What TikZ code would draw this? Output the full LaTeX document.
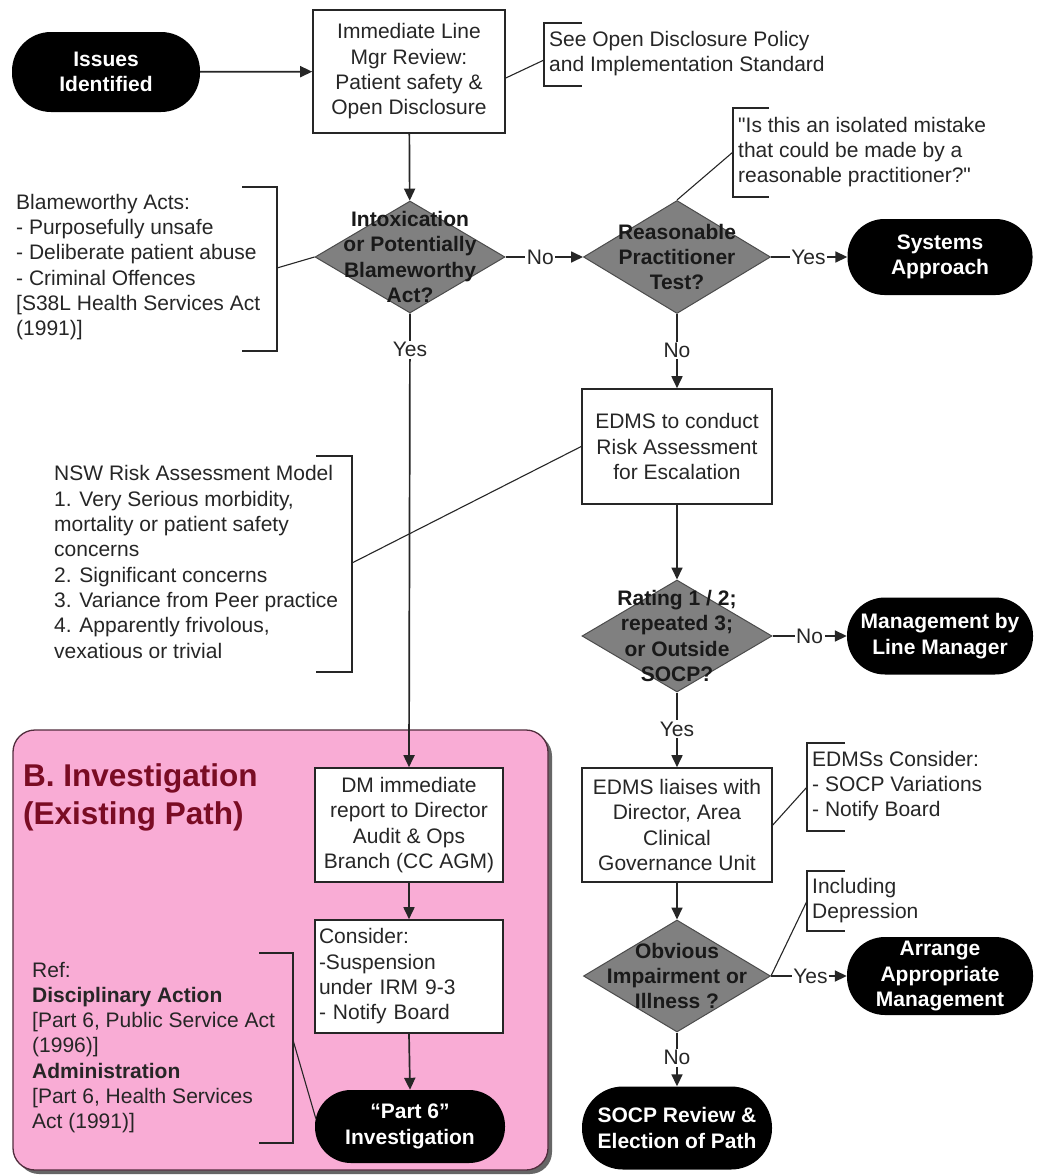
\documentclass[tikz,border=0pt]{standalone}
\usepackage{fontspec}
\setmainfont{Liberation Sans}
\usetikzlibrary{shapes.geometric,arrows.meta,calc}

\definecolor{ink}{RGB}{38,38,38}
\definecolor{panelpink}{RGB}{249,172,213}
\definecolor{paneledge}{RGB}{82,46,62}
\definecolor{titlered}{RGB}{122,12,36}
\definecolor{decgray}{RGB}{128,128,128}

\begin{document}
\begin{tikzpicture}[x=1pt,y=-1pt,
  every node/.style={font=\fontsize{21}{25.3}\selectfont, text=ink},
  box/.style={draw=ink, line width=1.6pt, fill=white, inner sep=0pt, align=center},
  term/.style={fill=black, inner sep=0pt, align=center,
    font=\fontsize{21}{25.3}\selectfont\bfseries, text=white},
  dia/.style={diamond, draw=black!70, line width=1pt, fill=decgray, inner sep=0pt},
  dtext/.style={align=center, inner sep=0pt,
    font=\fontsize{21}{25.3}\selectfont\bfseries, text=black!90},
  conn/.style={draw=ink, line width=1.7pt, -{Triangle[length=12pt,width=11pt]}},
  lab/.style={fill=white, inner sep=1.5pt},
  note/.style={draw=ink, line width=1.1pt},
  brk/.style={draw=ink, line width=1.6pt},
  notetext/.style={align=left, inner sep=0pt, anchor=west}]

% page
\fill[white] (0,0) rectangle (1037,1175);
\useasboundingbox (0,0) rectangle (1037,1175);

% investigation panel with its shadow
\fill[black!60, rounded corners=22pt] (17,734) rectangle (552,1174);
\draw[paneledge, line width=1.3pt, fill=panelpink, rounded corners=22pt] (13,730) rectangle (548,1170);
\node[anchor=west, inner sep=0pt, align=left, text=titlered,
  font=\fontsize{31.5}{38}\selectfont\bfseries] (ptitle) at (23,797)
  {B. Investigation\\(Existing Path)};

% main flow
\node[term, minimum width=188pt, minimum height=80pt, rounded corners=39pt] (issues) at (106,72) {Issues\\Identified};
\node[box, minimum width=192pt, minimum height=123pt] (imm) at (409,71.5)
  {Immediate Line\\Mgr Review:\\Patient safety \&\\Open Disclosure};

\node[dia, minimum width=190pt, minimum height=112pt] (d1) at (410,257) {};
\node[dtext] (d1t) at (d1) {Intoxication\\or Potentially\\Blameworthy\\Act?};

\node[dia, minimum width=187pt, minimum height=113pt] (rpt) at (677,257) {};
\node[dtext] (rptt) at (rpt) {Reasonable\\Practitioner\\Test?};

\node[term, minimum width=185pt, minimum height=76pt, rounded corners=37pt] (sys) at (940,257) {Systems\\Approach};

\node[box, minimum width=190pt, minimum height=115pt] (edms) at (677,446.5)
  {EDMS to conduct\\Risk Assessment\\for Escalation};

\node[dia, minimum width=190pt, minimum height=112pt] (rating) at (677,636) {};
\node[dtext] (ratingt) at (rating) {Rating 1 / 2;\\repeated 3;\\or Outside\\SOCP?};

\node[term, minimum width=186pt, minimum height=77pt, rounded corners=38pt] (mgmt) at (940,636) {Management by\\Line Manager};

\node[box, minimum width=190pt, minimum height=114pt] (liaise) at (677,825)
  {EDMS liaises with\\Director, Area\\Clinical\\Governance Unit};

\node[dia, minimum width=187pt, minimum height=112pt] (imp) at (677,976) {};
\node[dtext] (impt) at (imp) {Obvious\\Impairment or\\Illness ?};

\node[term, minimum width=186pt, minimum height=78pt, rounded corners=38pt] (arr) at (940,976) {Arrange\\Appropriate\\Management};

\node[term, minimum width=190pt, minimum height=83pt, rounded corners=41pt] (socp) at (677,1128) {SOCP Review \&\\Election of Path};

\node[box, minimum width=188pt, minimum height=114pt] (dm) at (409,825)
  {DM immediate\\report to Director\\Audit \& Ops\\Branch (CC AGM)};
\node[box, text width=180pt, inner xsep=4pt, align=left, minimum height=113pt] (cons) at (409,976.5)
  {Consider:\\-Suspension\\under IRM 9-3\\- Notify Board};
\node[term, minimum width=190pt, minimum height=73pt, rounded corners=36pt] (p6) at (410,1126.5) {“Part 6”\\Investigation};

% flow connectors
\draw[conn] (issues) -- (imm);
\draw[conn] (imm) -- (d1);
\draw[conn] (d1.east) -- node[lab, pos=0.45] {No} (rpt.west);
\draw[conn] (rpt.east) -- node[lab, pos=0.49] {Yes} (sys.west);
\draw[conn] (d1.south) -- node[lab, pos=0.08] {Yes} (dm.north);
\draw[conn] (rpt.south) -- node[lab, pos=0.49] {No} (edms.north);
\draw[conn] (edms.south) -- (rating.north);
\draw[conn] (rating.east) -- node[lab, pos=0.5] {No} (mgmt.west);
\draw[conn] (rating.south) -- node[lab, pos=0.49] {Yes} (liaise.north);
\draw[conn] (liaise.south) -- (imp.north);
\draw[conn] (imp.east) -- node[lab, pos=0.52] {Yes} (arr.west);
\draw[conn] (imp.south) -- node[lab, pos=0.47] {No} (socp.north);
\draw[conn] (dm.south) -- (cons.north);
\draw[conn] (cons.south) -- (p6.north);

% annotations
\node[notetext] (na) at (549,53.5) {See Open Disclosure Policy\\and Implementation Standard};
\draw[brk] (582,23) -- (544,23) -- (544,86) -- (582,86);
\coordinate (ba) at (544,60);
\draw[note] ($(imm.east)+(0,6.5)$) -- (ba);

\node[notetext] (nb) at (738,152) {\textquotedbl Is this an isolated mistake\\that could be made by a\\reasonable practitioner?\textquotedbl};
\draw[brk] (769,108) -- (733,108) -- (733,197) -- (769,197);
\coordinate (bb) at (733,152);
\draw[note] (rpt.north) -- (bb);

\node[notetext] (nc) at (16,267) {Blameworthy Acts:\\- Purposefully unsafe\\- Deliberate patient abuse\\- Criminal Offences\\{[}S38L Health Services Act\\(1991)]};
\draw[brk] (242,187) -- (277,187) -- (277,351) -- (242,351);
\coordinate (bc) at (277,268);
\draw[note] (bc) -- (d1.west);

\node[notetext] (nd) at (54,562) {NSW Risk Assessment Model\\1. Very Serious morbidity,\\mortality or patient safety\\concerns\\2. Significant concerns\\3. Variance from Peer practice\\4. Apparently frivolous,\\vexatious or trivial};
\draw[brk] (316,456) -- (352,456) -- (352,672) -- (316,672);
\coordinate (bd) at (352,563);
\draw[note] (bd) -- (edms.west);

\node[notetext] (ne) at (812,786) {EDMSs Consider:\\- SOCP Variations\\- Notify Board};
\draw[brk] (845,743) -- (807,743) -- (807,831) -- (845,831);
\coordinate (be) at (807,787);
\draw[note] (liaise.east) -- (be);

\node[notetext] (nf) at (812,900.5) {Including\\Depression};
\draw[brk] (845,871) -- (807,871) -- (807,931) -- (845,931);
\coordinate (bf) at (807,901);
\draw[note] (imp.east) -- (bf);

\node[notetext] (ng) at (32,1047.5) {Ref:\\\textbf{Disciplinary Action}\\{[}Part 6, Public Service Act\\(1996)]\\\textbf{Administration}\\{[}Part 6, Health Services\\Act (1991)]};
\draw[brk] (259,953) -- (293,953) -- (293,1143) -- (259,1143);
\coordinate (bg) at (293,1040);
\draw[note] (bg) -- ($(p6.west)+(1,-8)$);

\end{tikzpicture}
\end{document}
